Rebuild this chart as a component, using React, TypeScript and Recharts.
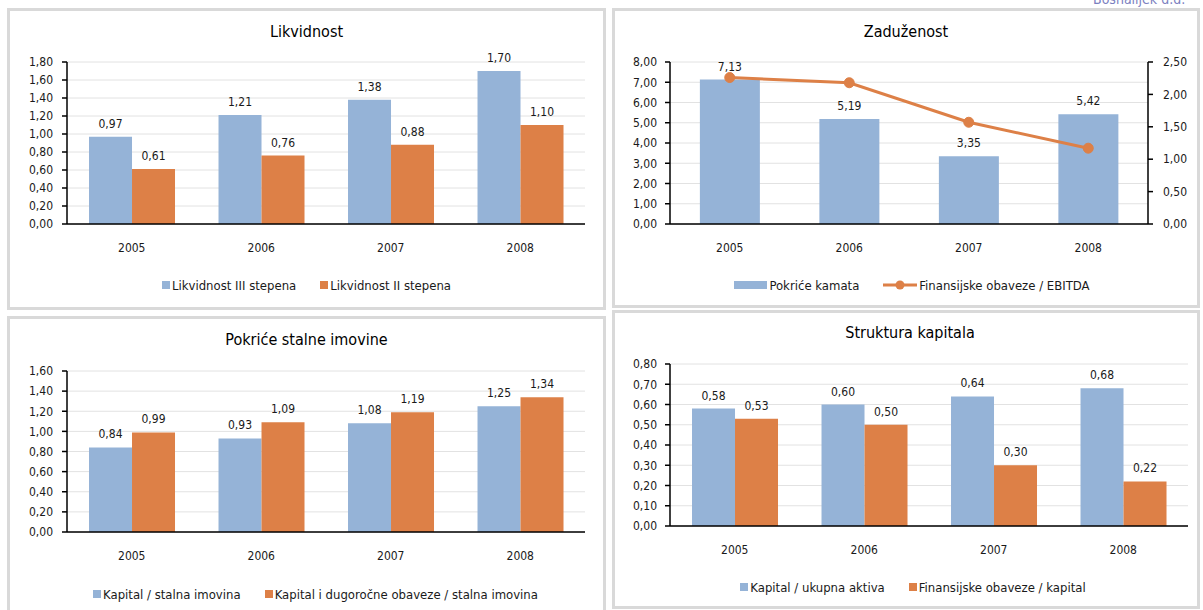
import React from 'react';
import {
  BarChart,
  Bar,
  ComposedChart,
  Line,
  XAxis,
  YAxis,
  CartesianGrid,
  LabelList,
} from 'recharts';

// podaci
const years = ['2005', '2006', '2007', '2008'];

const likvidnostIII = [0.97, 1.21, 1.38, 1.7];
const likvidnostII = [0.61, 0.76, 0.88, 1.1];

const pokriceKamata = [7.13, 5.19, 3.35, 5.42];
const obavezeEbitda = [2.26, 2.18, 1.57, 1.17];

const kapitalStalna = [0.84, 0.93, 1.08, 1.25];
const kapitalDugorocne = [0.99, 1.09, 1.19, 1.34];

const kapitalAktiva = [0.58, 0.6, 0.64, 0.68];
const obavezeKapital = [0.53, 0.5, 0.3, 0.22];

const ticksLikvidnost = [0, 0.2, 0.4, 0.6, 0.8, 1.0, 1.2, 1.4, 1.6, 1.8];
const ticksKamata = [0, 1, 2, 3, 4, 5, 6, 7, 8];
const ticksEbitda = [0, 0.5, 1.0, 1.5, 2.0, 2.5];
const ticksPokrice = [0, 0.2, 0.4, 0.6, 0.8, 1.0, 1.2, 1.4, 1.6];
const ticksStruktura = [0, 0.1, 0.2, 0.3, 0.4, 0.5, 0.6, 0.7, 0.8];

const FONT = '"DejaVu Sans Condensed", "Liberation Sans", Arial, sans-serif';
const BLUE = '#95b3d7';
const ORANGE = '#dd8047';
const GRID = '#e2e2e2';
const BORDER = '#d9d9d9';
const TEXT = '#1a1a1a';

const fmt = (v: any) => Number(v).toFixed(2).replace('.', ',');

const pairRows = (a: number[], b: number[]) =>
  years.map((year, i) => ({ year, a: a[i], b: b[i] }));

const tickStyle = { fontSize: 12, fill: TEXT, fontFamily: FONT };
const labelStyle = { fontSize: 12, fill: TEXT, fontFamily: FONT };
const axisStroke = { stroke: '#000', strokeWidth: 1.5 };

function Panel({ left, top, width, height }: any) {
  return (
    <div
      style={{
        position: 'absolute',
        left,
        top,
        width,
        height,
        border: `3px solid ${BORDER}`,
        boxSizing: 'border-box',
      }}
    />
  );
}

function Title({ text, left, width, y }: any) {
  return (
    <div
      style={{
        position: 'absolute',
        left,
        width,
        top: y - 10,
        height: 20,
        lineHeight: '20px',
        textAlign: 'center',
        fontFamily: FONT,
        fontSize: 16,
        color: '#000',
      }}
    >
      {text}
    </div>
  );
}

function Legend2({ items, left, width, y }: any) {
  return (
    <div
      style={{
        position: 'absolute',
        left,
        width,
        top: y - 9,
        height: 18,
        display: 'flex',
        justifyContent: 'center',
        alignItems: 'center',
        gap: 24,
        fontFamily: FONT,
        fontSize: 13,
        color: TEXT,
      }}
    >
      {items.map((it: any) => (
        <div key={it.name} style={{ display: 'flex', alignItems: 'center', gap: 2 }}>
          {it.type === 'line' ? (
            <svg width={34} height={10}>
              <line x1={0} y1={5} x2={34} y2={5} stroke={it.color} strokeWidth={3} />
              <circle cx={17} cy={5} r={4.5} fill={it.color} />
            </svg>
          ) : (
            <div style={{ width: it.wide ? 33 : 8, height: 8, background: it.color }} />
          )}
          <span style={{ whiteSpace: 'nowrap' }}>{it.name}</span>
        </div>
      ))}
    </div>
  );
}

function PairBarChart({ data, ticks, left, top, width, height, marginTop, yWidth, rightMargin, tickMargin }: any) {
  const max = ticks[ticks.length - 1];
  return (
    <div style={{ position: 'absolute', left, top }}>
      <BarChart
        width={width}
        height={height}
        data={data}
        margin={{ top: marginTop, right: rightMargin, bottom: 0, left: 0 }}
        barCategoryGap="17%"
        barGap={0}
      >
        <CartesianGrid vertical={false} stroke={GRID} />
        <XAxis
          dataKey="year"
          interval={0}
          height={30}
          axisLine={axisStroke}
          tickLine={false}
          tickSize={0}
          tickMargin={19}
          tick={tickStyle}
        />
        <YAxis
          width={yWidth}
          domain={[0, max]}
          ticks={ticks}
          interval={0}
          tickFormatter={fmt}
          axisLine={axisStroke}
          tickLine={axisStroke}
          tickSize={5}
          tickMargin={tickMargin}
          tick={tickStyle}
        />
        <Bar dataKey="a" fill={BLUE} isAnimationActive={false}>
          <LabelList dataKey="a" position="top" offset={9} formatter={fmt} style={labelStyle} />
        </Bar>
        <Bar dataKey="b" fill={ORANGE} isAnimationActive={false}>
          <LabelList dataKey="b" position="top" offset={9} formatter={fmt} style={labelStyle} />
        </Bar>
      </BarChart>
    </div>
  );
}

export default function App() {
  const likvidnostData = pairRows(likvidnostIII, likvidnostII);
  const pokriceData = pairRows(kapitalStalna, kapitalDugorocne);
  const strukturaData = pairRows(kapitalAktiva, obavezeKapital);
  const zaduzenostData = years.map((year, i) => ({
    year,
    kamata: pokriceKamata[i],
    ebitda: obavezeEbitda[i],
  }));

  return (
    <div
      style={{
        position: 'absolute',
        left: 0,
        top: 0,
        width: 1203,
        height: 610,
        overflow: 'hidden',
        background: '#fff',
      }}
    >
      <svg style={{ position: 'absolute', left: 0, top: 0 }} width={1203} height={12}>
        <text x={1093} y={4} fontFamily={FONT} fontSize={14} fill="#7b7fbf">
          Bosnalijek d.d.
        </text>
      </svg>

      <Panel left={7} top={8} width={599} height={302} />
      <Panel left={612} top={8} width={588} height={300} />
      <Panel left={7} top={316} width={599} height={300} />
      <Panel left={612} top={310} width={588} height={299} />

      {/* Likvidnost */}
      <Title text="Likvidnost" left={7} width={599} y={32} />
      <PairBarChart
        data={likvidnostData}
        ticks={ticksLikvidnost}
        left={10}
        top={40}
        width={590}
        height={214}
        marginTop={22}
        yWidth={57}
        rightMargin={15}
        tickMargin={9}
      />
      <Legend2
        left={7}
        width={599}
        y={285}
        items={[
          { name: 'Likvidnost III stepena', color: BLUE },
          { name: 'Likvidnost II stepena', color: ORANGE },
        ]}
      />

      {/* Zaduženost */}
      <Title text="Zaduženost" left={612} width={588} y={32} />
      <div style={{ position: 'absolute', left: 615, top: 40 }}>
        <ComposedChart
          width={583}
          height={214}
          data={zaduzenostData}
          margin={{ top: 22, right: 0, bottom: 0, left: 0 }}
          barCategoryGap="25%"
        >
          <CartesianGrid vertical={false} stroke={GRID} yAxisId="left" />
          <XAxis
            dataKey="year"
            interval={0}
            height={30}
            axisLine={axisStroke}
            tickLine={false}
            tickSize={0}
            tickMargin={19}
            tick={tickStyle}
          />
          <YAxis
            yAxisId="left"
            width={55}
            domain={[0, 8]}
            ticks={ticksKamata}
            interval={0}
            tickFormatter={fmt}
            axisLine={axisStroke}
            tickLine={axisStroke}
            tickSize={5}
            tickMargin={8}
            tick={tickStyle}
          />
          <YAxis
            yAxisId="right"
            orientation="right"
            width={50}
            domain={[0, 2.5]}
            ticks={ticksEbitda}
            interval={0}
            tickFormatter={fmt}
            axisLine={axisStroke}
            tickLine={axisStroke}
            tickSize={5}
            tickMargin={10}
            tick={tickStyle}
          />
          <Bar yAxisId="left" dataKey="kamata" fill={BLUE} isAnimationActive={false}>
            <LabelList dataKey="kamata" position="top" offset={9} formatter={fmt} style={labelStyle} />
          </Bar>
          <Line
            yAxisId="right"
            dataKey="ebitda"
            stroke={ORANGE}
            strokeWidth={3}
            dot={{ r: 5, fill: ORANGE, stroke: ORANGE, strokeWidth: 1 }}
            activeDot={false}
            isAnimationActive={false}
          />
        </ComposedChart>
      </div>
      <Legend2
        left={612}
        width={600}
        y={285}
        items={[
          { name: 'Pokriće kamata', color: BLUE, wide: true },
          { name: 'Finansijske obaveze / EBITDA', color: ORANGE, type: 'line' },
        ]}
      />

      {/* Pokriće stalne imovine */}
      <Title text="Pokriće stalne imovine" left={7} width={599} y={340} />
      <PairBarChart
        data={pokriceData}
        ticks={ticksPokrice}
        left={10}
        top={348}
        width={590}
        height={214}
        marginTop={23}
        yWidth={57}
        rightMargin={15}
        tickMargin={9}
      />
      <Legend2
        left={7}
        width={617}
        y={594}
        items={[
          { name: 'Kapital / stalna imovina', color: BLUE },
          { name: 'Kapital i dugoročne obaveze / stalna imovina', color: ORANGE },
        ]}
      />

      {/* Struktura kapitala */}
      <Title text="Struktura kapitala" left={612} width={596} y={333} />
      <PairBarChart
        data={strukturaData}
        ticks={ticksStruktura}
        left={615}
        top={340}
        width={583}
        height={216}
        marginTop={24}
        yWidth={55}
        rightMargin={10}
        tickMargin={8}
      />
      <Legend2
        left={612}
        width={602}
        y={587}
        items={[
          { name: 'Kapital / ukupna aktiva', color: BLUE },
          { name: 'Finansijske obaveze / kapital', color: ORANGE },
        ]}
      />
    </div>
  );
}
